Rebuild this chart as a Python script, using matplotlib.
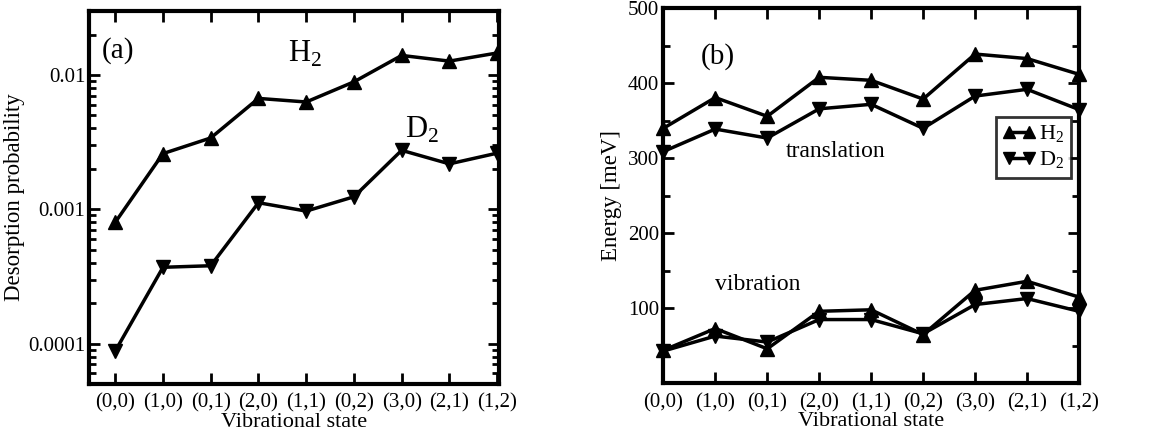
import numpy as np
import matplotlib
matplotlib.use('Agg')
import matplotlib.pyplot as plt
from matplotlib.ticker import LogLocator, NullFormatter, MultipleLocator, FixedLocator

plt.rcParams['font.family'] = ['Liberation Serif', 'DejaVu Serif']
plt.rcParams['mathtext.fontset'] = 'custom'
plt.rcParams['mathtext.rm'] = 'Liberation Serif'

states = ['(0,0)', '(1,0)', '(0,1)', '(2,0)', '(1,1)', '(0,2)', '(3,0)', '(2,1)', '(1,2)']

# panel (a): desorption probability
prob_h2 = [0.0008, 0.0026, 0.0034, 0.0067, 0.0063, 0.0089, 0.0140, 0.0127, 0.0146]
prob_d2 = [0.000088, 0.00037, 0.00038, 0.00112, 0.00097, 0.00124, 0.00275, 0.00218, 0.00262]

# panel (b): energies in meV
trans_h2 = [340, 381, 356, 408, 404, 379, 439, 433, 412]
trans_d2 = [309, 339, 327, 366, 372, 340, 383, 392, 365]
vib_h2 = [44, 73, 46, 96, 98, 65, 124, 136, 115]
vib_d2 = [43, 63, 55, 85, 85, 66, 105, 113, 96]

x = np.arange(len(states))
lw = 2.5
ms = 10

fig = plt.figure(figsize=(11.56, 4.38), dpi=100)
ax1 = fig.add_axes([0.0774, 0.1233, 0.3543, 0.8516])
ax2 = fig.add_axes([0.5738, 0.1249, 0.3596, 0.8561])

ax1.plot(x, prob_h2, color='black', lw=lw, marker='^', ms=ms)
ax1.plot(x, prob_d2, color='black', lw=lw, marker='v', ms=ms)
ax1.set_yscale('log')
ax1.set_ylim(5e-5, 0.03)
ax1.set_xlim(-0.54, 8.04)
ax1.yaxis.set_major_locator(FixedLocator([0.0001, 0.001, 0.01]))
ax1.set_yticklabels(['0.0001', '0.001', '0.01'])
ax1.yaxis.set_minor_locator(LogLocator(base=10, subs=np.arange(2, 10)))
ax1.yaxis.set_minor_formatter(NullFormatter())
ax1.set_ylabel('Desorption probability', fontsize=16.5)
ax1.yaxis.set_label_coords(-0.1575, 0.5)
ax1.text(0.03, 0.93, '(a)', transform=ax1.transAxes, fontsize=21, va='top')
ax1.text(3.62, 0.0125, 'H$_2$', fontsize=22)
ax1.text(6.07, 0.0034, 'D$_2$', fontsize=22)

ax2.plot(x, trans_h2, color='black', lw=lw, marker='^', ms=ms, label='H$_2$', clip_on=False)
ax2.plot(x, trans_d2, color='black', lw=lw, marker='v', ms=ms, label='D$_2$', clip_on=False)
ax2.plot(x, vib_h2, color='black', lw=lw, marker='^', ms=ms, clip_on=False)
ax2.plot(x, vib_d2, color='black', lw=lw, marker='v', ms=ms, clip_on=False)
ax2.set_xlim(0, 8)
ax2.set_ylim(0, 500)
ax2.yaxis.set_major_locator(FixedLocator([100, 200, 300, 400, 500]))
ax2.yaxis.set_minor_locator(MultipleLocator(50))
ax2.set_ylabel('Energy [meV]', fontsize=16.5)
ax2.yaxis.set_label_coords(-0.100, 0.5)
ax2.text(0.09, 0.907, '(b)', transform=ax2.transAxes, fontsize=21, va='top')
ax2.text(2.35, 302, 'translation', fontsize=17)
ax2.text(1.0, 124, 'vibration', fontsize=17)
leg = ax2.legend(loc='upper right', bbox_to_anchor=(0.98, 0.71), numpoints=2, markerscale=0.8,
                 handlelength=1.5, handletextpad=0.15, borderpad=0.3, labelspacing=0.2,
                 fontsize=16, frameon=True, fancybox=False, edgecolor='black',
                 borderaxespad=0)
leg.get_frame().set_linewidth(2)

for ax in (ax1, ax2):
    ax.set_xticks(x)
    ax.set_xticklabels(states)
    ax.set_xlabel('Vibrational state', fontsize=16, labelpad=0)
    ax.tick_params(which='both', direction='in', top=True, right=True, labelsize=15, width=2)
    ax.tick_params(which='major', length=8)
    ax.tick_params(axis='x', which='major', pad=7)
    ax.tick_params(axis='y', which='major', pad=3)
    ax.tick_params(which='minor', length=5)
    ax.tick_params(axis='x', which='minor', bottom=False, top=False)
    for s in ax.spines.values():
        s.set_linewidth(3)

fig.savefig('out.png', dpi=100)
